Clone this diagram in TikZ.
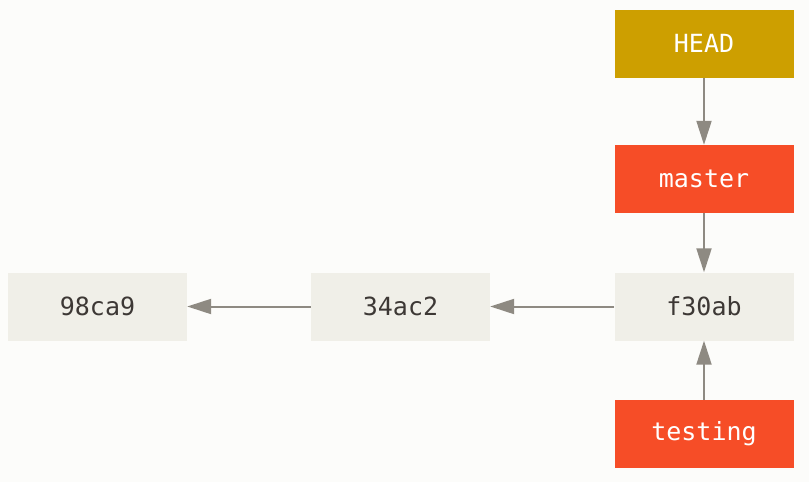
\documentclass[tikz,border=0pt]{standalone}
\usepackage{fontspec}
\setmonofont{DejaVu Sans Mono}
\usetikzlibrary{arrows.meta, positioning}
\definecolor{bgcol}{HTML}{FCFCFA}
\definecolor{commitcol}{HTML}{F0EFE8}
\definecolor{branchcol}{HTML}{F64D27}
\definecolor{headcol}{HTML}{CD9F00}
\definecolor{linecol}{HTML}{8E8A82}
\definecolor{textcol}{HTML}{3D3835}
\tikzset{>={Triangle[length=24pt,width=15pt]}}
\tikzset{
  box/.style={minimum width=179pt, minimum height=68pt, inner sep=0pt,
    font=\ttfamily\fontsize{25}{29}\selectfont},
  commit/.style={box, fill=commitcol, text=textcol},
  branch/.style={box, fill=branchcol, text=white},
  headref/.style={box, fill=headcol, text=white},
  link/.style={->, draw=linecol, fill=linecol, line width=2pt}
}
\begin{document}
\begin{tikzpicture}[x=1pt, y=-1pt]
            \fill[bgcol] (0,0) rectangle (809,482);
            \useasboundingbox (0,0) rectangle (809,482);
            \node[commit] (c98) at (97.5,306.5){98ca9};
            \node[commit] (c34) at (400.5,306.5){34ac2};
            \node[commit] (cf3) at (704,306.5){f30ab};
            \node[headref] (head) at (704,43.5){HEAD};
            \node[branch] (master) at (704,179){master};
            \node[branch] (testing) at (704,434){testing};
            \draw[link] (head) -- (master);
            \draw[link] (master) -- (cf3);
            \draw[link] (testing) -- (cf3);
            \draw[link] (cf3) -- (c34);
            \draw[link] (c34) -- (c98);
            \end{tikzpicture}
\end{document}
